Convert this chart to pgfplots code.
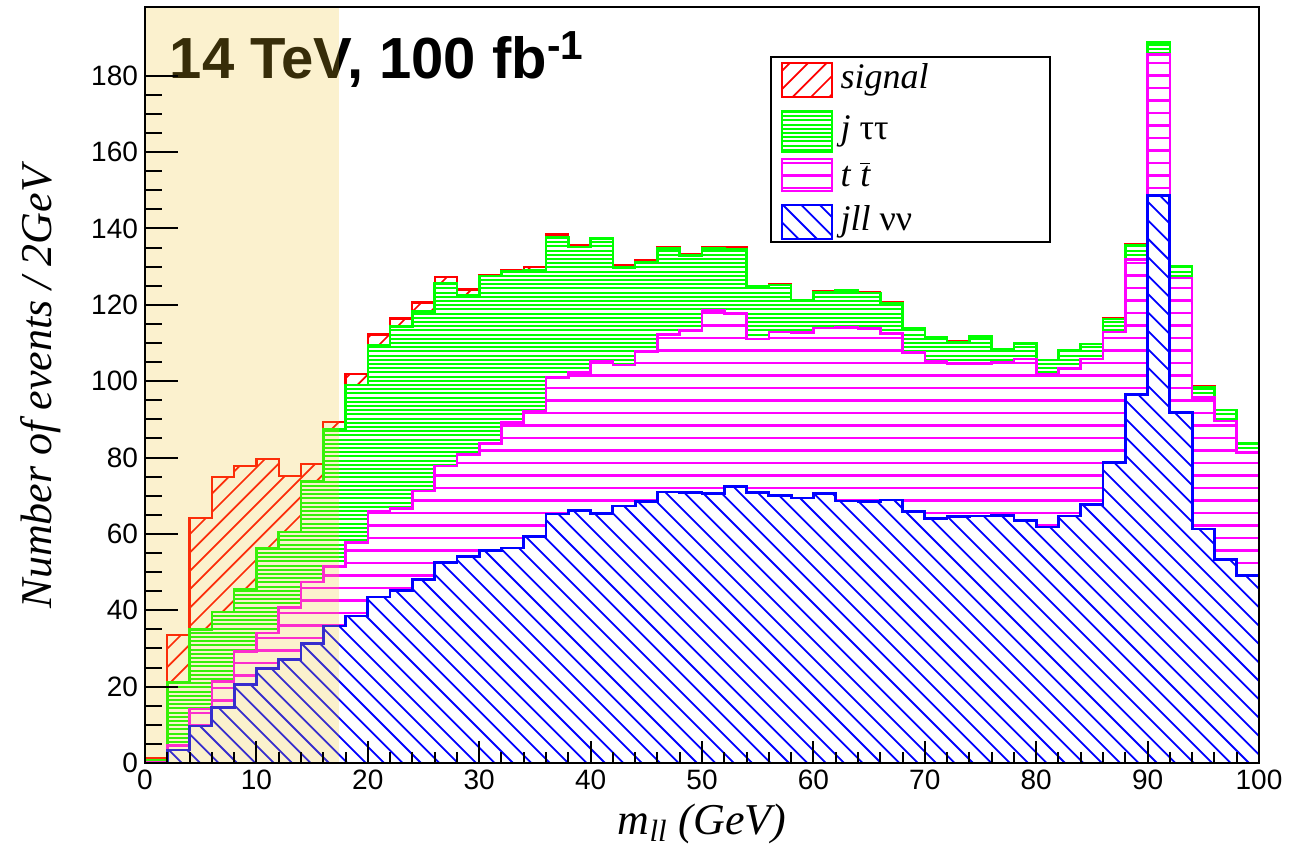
\documentclass[border=0pt]{standalone}
\usepackage{fontspec}
\setmainfont{Liberation Serif}
\setsansfont{Liberation Sans}
\usepackage{pgfplots}
\pgfplotsset{compat=1.18}
\usepackage{pgfplotstable}

\definecolor{bandcol}{RGB}{239,196,43}
\definecolor{cred}{RGB}{255,0,0}
\definecolor{cgreen}{RGB}{0,255,0}
\definecolor{cmag}{RGB}{255,0,255}
\definecolor{cblue}{RGB}{0,0,255}

% cumulative stack tops per 2 GeV bin (left edge)
\pgfplotstableread{
x   blue  mag   green red
0   0.0   0.3   0.8   1.3
2   3.4   4.6   21.1  33.6
4   9.7   14.1  34.9  64.1
6   14.6  21.3  39.5  75.0
8   20.5  29.2  45.4  77.8
10  24.8  34.0  56.1  79.7
12  27.2  40.8  60.5  75.1
14  31.2  47.4  73.8  78.4
16  35.9  51.5  87.4  89.3
18  38.5  57.8  99.0  101.8
20  43.5  66.0  109.4 112.2
22  45.1  66.6  114.3 116.4
24  48.0  71.2  118.3 120.6
26  52.6  77.8  125.6 127.3
28  54.0  80.8  122.6 124.0
30  55.7  83.7  127.5 127.8
32  56.3  89.2  128.7 129.1
34  59.4  92.2  129.0 130.0
36  65.2  100.9 137.7 138.4
38  66.1  102.2 135.1 135.7
40  65.3  105.3 137.4 137.6
42  67.3  104.2 129.8 130.5
44  68.4  107.8 131.2 131.6
46  71.0  112.3 134.8 135.2
48  70.9  113.2 132.9 133.3
50  70.5  118.5 134.8 135.2
52  72.4  117.8 134.6 135.0
54  70.9  111.0 124.8 125.0
56  70.0  112.9 125.2 125.3
58  69.4  112.8 121.1 121.2
60  70.5  113.9 123.4 123.5
62  68.6  114.1 123.7 123.8
64  68.4  113.8 123.1 123.2
66  68.9  112.5 120.5 120.6
68  65.8  107.5 113.8 113.9
70  64.0  105.2 111.5 111.6
72  64.5  104.6 110.3 110.4
74  64.7  104.6 111.7 111.8
76  64.8  105.0 108.4 108.5
78  63.5  105.8 109.9 110.0
80  61.8  101.7 105.5 105.6
82  64.7  103.3 108.0 108.1
84  67.7  105.8 109.7 109.8
86  78.8  112.9 116.3 116.4
88  96.6  131.8 135.7 135.8
90  148.6 185.6 188.7 188.8
92  91.8  127.0 130.0 130.1
94  61.3  95.7  98.5  98.6
96  53.3  89.6  92.4  92.5
98  49.1  81.3  83.6  83.7
100 49.1  81.3  83.6  83.7
}\stack

% hatching: plain pgf lines across the axis, clipped to each filled area
\tikzset{
  hhor/.style n args={4}{path picture={%
    \pgfsetlinewidth{#4}\pgfsetstrokecolor{#1}%
    \foreach \k in {0,...,#3}{%
      \pgfpathmoveto{\pgfpointadd{\pgfplotspointaxisxy{0}{0}}{\pgfpoint{0pt}{\k*#2}}}%
      \pgfpathlineto{\pgfpointadd{\pgfplotspointaxisxy{100}{0}}{\pgfpoint{0pt}{\k*#2}}}%
      \pgfusepath{stroke}}}},
  hdiag/.style n args={3}{path picture={%
    \pgfsetlinewidth{#3}\pgfsetstrokecolor{#1}%
    \foreach \k in {-45,...,105}{%
      \pgfpathmoveto{\pgfpointadd{\pgfplotspointaxisxy{0}{0}}{\pgfpoint{\k*9.2pt}{0pt}}}%
      \pgfpathlineto{\pgfpointadd{\pgfplotspointaxisxy{0}{0}}{\pgfpoint{\k*9.2pt+#2*420pt}{420pt}}}%
      \pgfusepath{stroke}}}},
  hsig/.style={hdiag={cred}{1}{0.85pt}},
  htau/.style={hhor={cgreen}{2.1pt}{182}{1pt}},
  htt/.style={hhor={cmag}{6.25pt}{61}{1.1pt}},
  hnu/.style={hdiag={cblue}{-1}{0.9pt}},
}

\begin{document}
\begin{tikzpicture}
\useasboundingbox (-72.5pt,-46pt) rectangle (585pt,381.5pt);
\begin{axis}[
  at={(0,0)}, anchor=south west,
  scale only axis, width=557pt, height=378pt,
  xmin=0, xmax=100, ymin=0, ymax=198,
  axis on top,
  xtick={0,10,...,100}, ytick={0,20,...,180},
  minor x tick num=4, minor y tick num=3,
  xtick pos=bottom, ytick pos=left,
  tick align=inside,
  xtick style={/pgfplots/major tick length=11pt, /pgfplots/minor tick length=5.5pt, line width=1pt, black},
  ytick style={/pgfplots/major tick length=16.5pt, /pgfplots/minor tick length=8.5pt, line width=1pt, black},
  axis line style={line width=1.2pt},
  ticklabel style={font=\fontsize{14}{16}\selectfont\sffamily},
  /pgf/number format/assume math mode=true,
  xlabel={\textit{m}\textsubscript{\textit{ll}} \textit{(GeV)}},
  ylabel={\textit{Number of events / 2GeV}},
  label style={font=\fontsize{22}{24}\selectfont},
  xlabel style={at={(axis description cs:0.5,0)}, anchor=base, yshift=-35.5pt},
  ylabel style={at={(axis description cs:-0.0835,0.5)}, anchor=base},
]
\addplot[const plot, draw=cred, line width=1.1pt, fill=white, hsig]
  table[x=x, y=red] {\stack} \closedcycle;
\addplot[const plot, draw=cgreen, line width=1.3pt, fill=white, htau]
  table[x=x, y=green] {\stack} \closedcycle;
\addplot[const plot, draw=cmag, line width=1.3pt, fill=white, htt]
  table[x=x, y=mag] {\stack} \closedcycle;
\addplot[const plot, draw=cblue, line width=1.4pt, fill=white, hnu]
  table[x=x, y=blue] {\stack} \closedcycle;

\node[anchor=base west, font=\fontsize{29}{32}\selectfont\sffamily\bfseries]
  at (axis cs:1.6,179.4) {14 TeV, 100 fb\textsuperscript{-1}};

\fill[bandcol, fill opacity=0.23] (axis cs:0,0) rectangle (axis cs:17.4,198);

% legend
\draw[line width=1pt, fill=white] (axis cs:56.2,136.4) rectangle (axis cs:81.2,184.9);
\draw[line width=1pt, draw=cred, fill=white, hsig] (axis cs:57.2,174.5) rectangle (axis cs:61.7,183.2);
\draw[line width=1pt, draw=cgreen, fill=white, htau] (axis cs:57.2,160.1) rectangle (axis cs:61.7,170.8);
\draw[line width=1pt, draw=cmag, fill=white, htt] (axis cs:57.2,149.7) rectangle (axis cs:61.7,158.3);
\draw[line width=1pt, draw=cblue, fill=white, hnu] (axis cs:57.2,137.3) rectangle (axis cs:61.7,146.2);
\begin{scope}[every node/.style={anchor=west, font=\fontsize{18}{20}\selectfont, inner sep=0pt}]
\node at (axis cs:62.4,178.8) {\textit{signal}};
\node at (axis cs:62.4,165.4) {\textit{j} ττ};
\node at (axis cs:62.4,154.0) {\textit{t} $\overline{\textit{t}}$};
\node at (axis cs:62.4,141.7) {\textit{jll} νν};
\end{scope}
\end{axis}
\end{tikzpicture}
\end{document}
